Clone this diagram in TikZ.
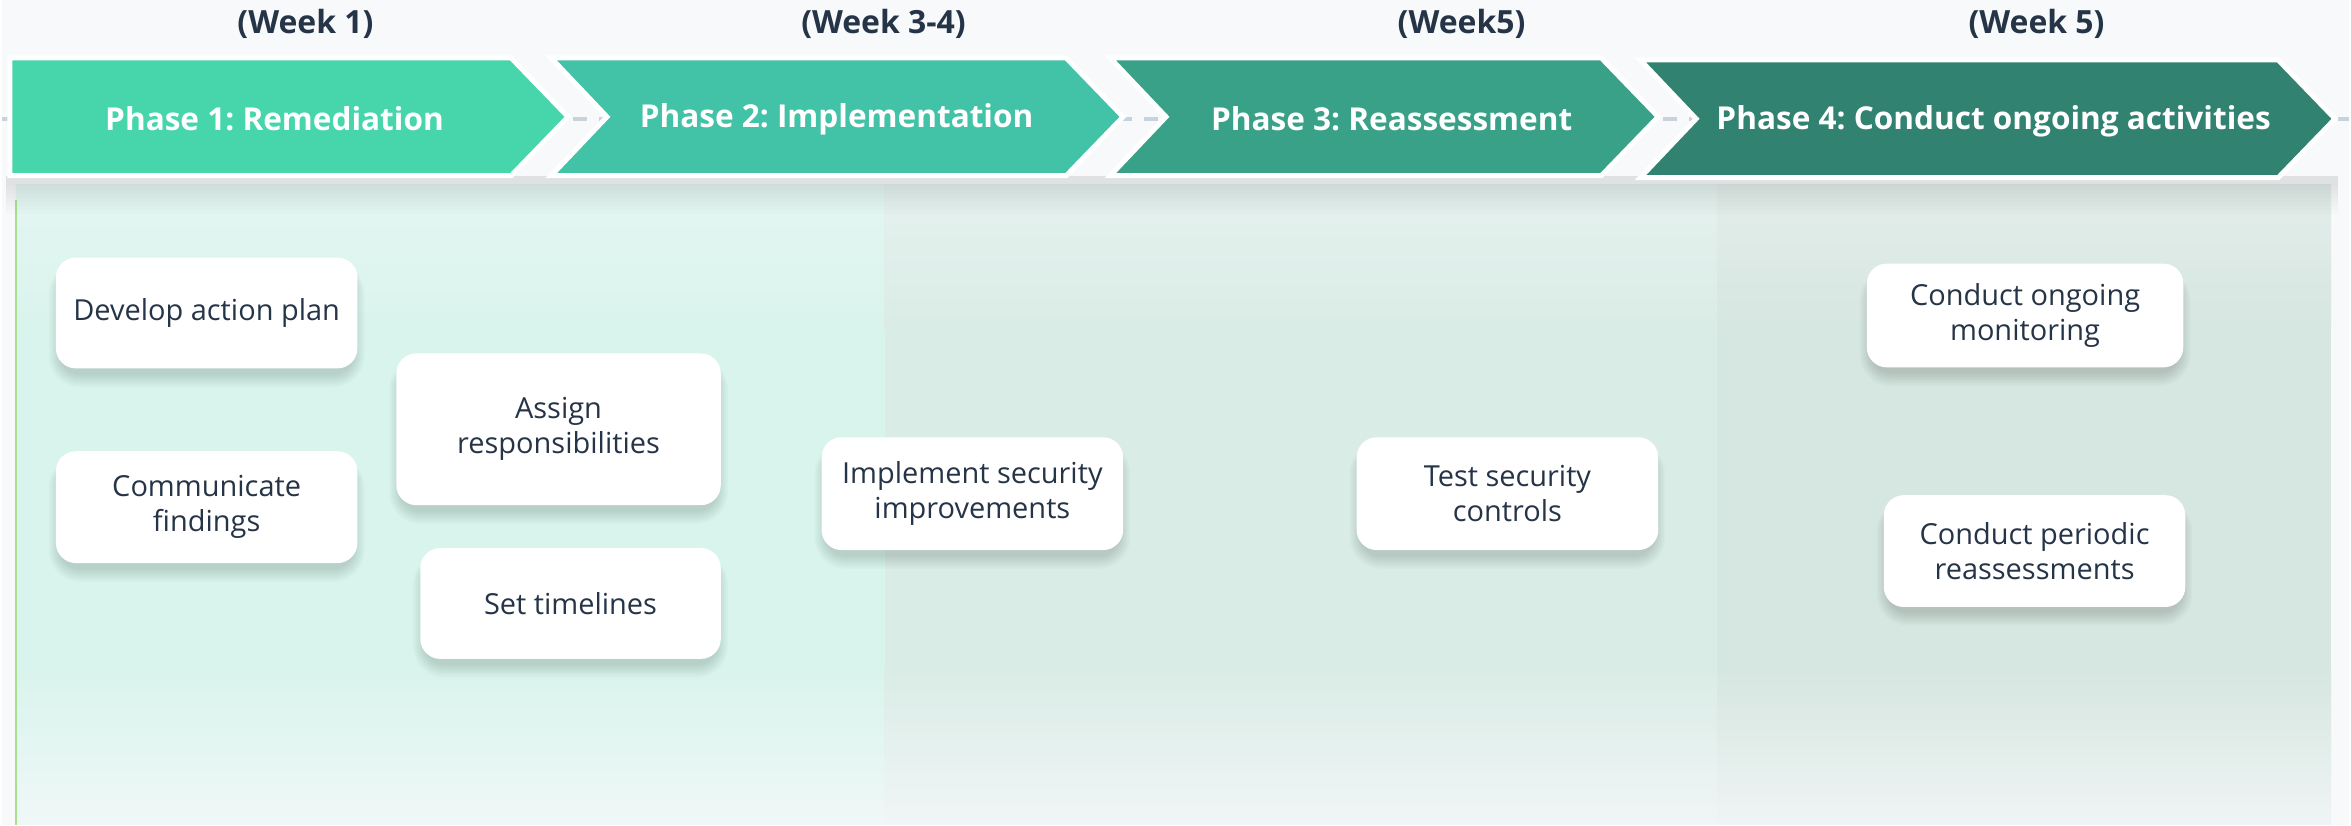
\documentclass[tikz,border=0pt]{standalone}
\usepackage{fontspec}
\setmainfont{Open Sans}
\frenchspacing

% palette
\definecolor{page}{RGB}{247,249,251}
\definecolor{ink}{RGB}{38,52,71}
\definecolor{railgray}{RGB}{200,210,220}
\definecolor{edgegreen}{RGB}{168,224,143}
\definecolor{colA}{RGB}{217,244,236}
\definecolor{colB}{RGB}{218,236,230}
\definecolor{colC}{RGB}{214,230,224}
\definecolor{ph1}{RGB}{71,214,171}
\definecolor{ph2}{RGB}{66,194,166}
\definecolor{ph3}{RGB}{56,161,135}
\definecolor{ph4}{RGB}{49,130,112}

\tikzset{
  chev/.style={draw=white, line width=2.5pt, line join=miter},
  phase/.style={text=white, font=\fontsize{15.8}{19}\selectfont\bfseries},
  week/.style={text=ink, font=\fontsize{16}{19}\selectfont\bfseries},
  task/.style={fill=white, rounded corners=10pt, align=center, text=ink, inner sep=0pt,
    font=\fontsize{14.5}{17.5}\selectfont},
  haze/.style={fill=black, opacity=0.012},
  rail/.style={railgray, line width=2pt, dash pattern=on 7pt off 6pt},
}

% cards: name / centre x / centre y / width / height / text  (pixel units)
\def\cards{plan/205/313.5/302/111/{Develop action plan},
  findings/205/508/302/112/{Communicate\\ findings},
  assign/557.5/430/325/152/{Assign\\ responsibilities},
  timelines/569.5/604.5/301/111/{Set timelines},
  improve/972/494.5/302/113/{Implement security\\ improvements},
  controls/1508/494.5/302/113/{Test security\\ controls},
  monitor/2026.5/316/317/104/{Conduct ongoing\\ monitoring},
  reassess/2036/552/302/112/{Conduct periodic\\ reassessments}}

\begin{document}
\begin{tikzpicture}[x=0.5pt, y=-0.5pt]
  % canvas
  \fill[page] (0,0) rectangle (2351,826);
  % tinted columns, faded at top and bottom
  \foreach \xl/\xr/\col in {14/884/colA, 884/1718/colB, 1718/2333/colC} {
    \shade[top color=page!40!\col, bottom color=\col] (\xl,185) rectangle (\xr,330);
    \fill[\col] (\xl,330) rectangle (\xr,670);
    \shade[top color=\col, bottom color=page!75!\col] (\xl,670) rectangle (\xr,826);
  }
  \draw[edgegreen, line width=1pt] (14,200) -- (14,826);

  % soft band under the chevron row
  \foreach \s in {0,...,7}
    \fill[haze] (4,176) rectangle (2340,186+4*\s);

  % rail behind the chevrons
  \coordinate (rail-w) at (0,119);
  \coordinate (rail-e) at (2351,119);
  \draw[rail] (rail-w) -- (rail-e);

  % chevrons: left edge, right edge, notch depth, top
  \foreach \k/\xl/\xr/\dx/\yt in {1/8/510/0/58, 2/550/1066/56/58, 3/1110/1602/56/58, 4/1641/2280/56/60}
    \path[chev, fill=ph\k] (\xl,\yt) -- (\xr,\yt) -- ++(57,59) -- ++(-57,59) -- (\xl,\yt+118) -- ++(\dx,-59) -- cycle;

  \foreach \k/\cx/\cy/\lab in {1/273/119/{Phase 1: Remediation}, 2/836/119/{Phase 2: Implementation},
      3/1392/119/{Phase 3: Reassessment}, 4/1995/121/{Phase 4: Conduct ongoing activities}}
    \node[phase] (phase\k) at (\cx,\cy) {\lab};

  \foreach \k/\cx/\lab in {1/304/{(Week 1)}, 2/883/{(Week 3-4)}, 3/1462/{(Week5)}, 4/2038/{(Week 5)}}
    \node[week] (week\k) at (\cx,24) {\lab};

  % card shadows, then the cards
  \foreach \nm/\cx/\cy/\w/\h/\lab in \cards
    \foreach \s in {0,...,8}
      \fill[haze, opacity=0.016, rounded corners=10pt+0.7pt*\s]
        (\cx-\w/2+4-1.4*\s, \cy-\h/2+10-0.6*\s) rectangle (\cx+\w/2-4+1.4*\s, \cy+\h/2+6+1.6*\s);
  \foreach \nm/\cx/\cy/\w/\h/\lab in \cards
    \node[task, minimum width=\w*0.5pt, minimum height=\h*0.5pt] (\nm) at (\cx,\cy) {\lab};
\end{tikzpicture}
\end{document}
